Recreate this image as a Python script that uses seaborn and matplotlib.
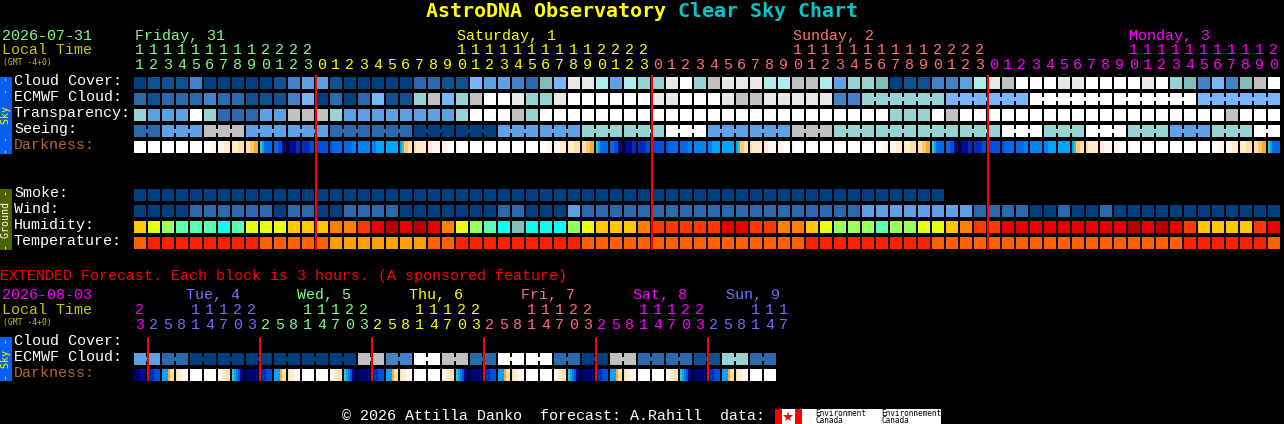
import numpy as np
import matplotlib
matplotlib.use("Agg")
import matplotlib.pyplot as plt
from matplotlib.colors import ListedColormap
from matplotlib.patches import Rectangle
import seaborn as sns

W, H = 1284, 424

# palettes -------------------------------------------------------------
sky_palette = ["#003f7f", "#0f5090", "#2a69ac", "#4382c8", "#5ea0e4", "#78b6fb",
               "#7fbcbc", "#96d4d4", "#aceeee", "#c0c0c0", "#e8e8e8", "#ffffff"]
humidity_palette = ["#08fff0", "#5cffb0", "#9cff60", "#e8ff10", "#ffc800", "#ff8000",
                    "#ff3800", "#e80000", "#b80000", "#84bcbc"]
temperature_palette = ["#ff2000", "#ff6000", "#ffa000"]
darkness_palette = ["#ffffff", "#fff6ea", "#ffeccf", "#ffdfae", "#ffc870", "#ffaa28",
                    "#40c8a0", "#00a4ff", "#0080f8", "#0068e8", "#0050dc", "#0030b8",
                    "#000c98", "#000070"]

# hourly forecast ------------------------------------------------------
top_hours = ([11, 12, 13, 14, 15, 16, 17, 18, 19, 20, 21, 22, 23] + list(range(24)) * 2
             + list(range(21)))
top_days = ["Friday, 31", "Saturday, 1", "Sunday, 2", "Monday, 3"]
top_day_starts = [0, 23, 47, 71]
top_hour_bounds = [0, 13, 37, 61, 82]
top_colors = ["#80ff80", "#ffff00", "#ff7070", "#ff00ff"]

cloud_cover = [0, 1, 1, 1, 3, 0, 0, 0, 0, 0, 1, 3, 4, 4, 1, 0, 0, 0, 0, 0, 2,
               2, 1, 1, 5, 4, 4, 3, 2, 6, 5, 10, 10, 8, 4, 8, 7, 7, 10, 11, 7,
               9, 10, 10, 10, 8, 8, 9, 9, 8, 4, 7, 7, 6, 0, 1, 1, 3, 3, 4, 8,
               10, 9, 11, 11, 11, 10, 10, 11, 11, 11, 11, 10, 11, 7, 6, 3, 5, 3, 6, 9, 11]
ecmwf_cloud = [2, 1, 2, 2, 2, 3, 2, 2, 1, 1, 1, 3, 5, 0, 2, 0, 2, 5, 1, 1, 7,
               9, 5, 7, 9, 11, 11, 10, 7, 7, 10, 11, 11, 11, 11, 11, 11, 10, 10, 11, 11,
               11, 10, 9, 9, 10, 10, 10, 10, 10, 3, 3,
               7, 7, 7, 7, 7, 7, 5, 5, 5, 5, 5, 5,
               11, 11, 11, 11, 11, 11, 11, 11, 11, 11, 11, 11, 5, 5, 5, 5, 5, 5]
ecmwf_groups = [1] * 52 + [6] * 5
transparency = [7, 4, 4, 4, 11, 7, 2, 2, 2, 4, 4, 9, 9, 9, 7, 4, 4, 4, 4, 4, 4,
                4, 4, 7, 11, 11, 11, 9, 7, 11, 11, 11, 11, 11, 11, 11, 11, 11, 11, 11, 11,
                11, 11, 11, 11, 11, 11, 11, 11, 11, 11, 11, 11, 11, 7, 7, 7, 11, 9, 11, 11,
                11, 11, 11, 11, 11, 11, 11, 11, 11, 11, 11, 11, 11, 11, 11, 11, 11, 9, 11, 11, 11]
seeing_levels = [2, 4, 9, 4, 4, 2, 2, 0, 0, 4, 4, 7, 7, 11, 4, 4, 9, 7, 7, 7, 7, 11, 7, 11, 7, 4, 7, 11]
seeing_groups = [2, 3, 3, 3, 3, 3, 3, 3, 3, 3, 3, 3, 3, 3, 3, 3, 3, 3, 3, 3, 3, 3, 3, 3, 3, 3, 3, 2]
darkness = ["000000", "000000", "000000", "000000", "000000", "000111", "111222", "222333",
            "334455", "679999", "99aacd", "dcccbb", "bbbbaa", "aaaaaa", "a99999", "999988",
            "888888", "887777", "777777", "764433", "322222", "221111", "111000", "100000",
            "000000", "000000", "000000", "000000", "000000", "000111", "111222", "222333",
            "334455", "679999", "99aacd", "dcccbb", "bbbbaa", "aaaaaa", "a99999", "999988",
            "888888", "887777", "777777", "764433", "322222", "221111", "111000", "100000",
            "000000", "000000", "000000", "000000", "000000", "000111", "111222", "222333",
            "334455", "679999", "99aacd", "dcccbb", "bbbbaa", "aaaaaa", "a99999", "999988",
            "888888", "887777", "777777", "764433", "322222", "221111", "111000", "100000",
            "000000", "000000", "000000", "000000", "000000", "000111", "111222", "222333",
            "334455", "679999"]
smoke = [0] * 58 + [-1] * 24
wind = [0, 0, 0, 0, 2, 2, 2, 2, 2, 2, 0, 2, 2, 0, 0, 2, 2, 2, 2, 0, 0,
        0, 0, 0, 0, 0, 2, 2, 0, 0, 0, 4, 2, 2, 2, 2, 2, 2, 2, 2, 2,
        2, 2, 2, 2, 2, 2, 2, 2, 2, 2, 2, 4, 4, 4, 4, 4, 4, 4, 4, 2,
        2, 2, 2, 0, 0, 2, 0, 0, 2, 0, 0, 0, 0, 0, 0, 0, 0, 0, 0, 0, 0]
humidity = [4, 3, 2, 1, 1, 1, 0, 1, 3, 3, 3, 4, 4, 4, 5, 5, 6, 7, 8, 7, 8,
            7, 5, 3, 2, 1, 0, 9, 0, 0, 0, 2, 3, 4, 4, 4, 5, 6, 6, 6, 6,
            6, 7, 7, 6, 6, 5, 5, 4, 3, 2, 2, 2, 1, 2, 2, 3, 3, 4, 5, 6,
            6, 7, 7, 7, 7, 7, 7, 7, 7, 7, 8, 7, 8, 7, 6, 4, 4, 4, 4, 6, 7]
temperature = [1, 0, 0, 0, 0, 0, 0, 0, 0, 1, 1, 1, 1, 1, 2, 2, 2, 2, 2, 2, 2,
               1, 1, 0, 0, 0, 0, 0, 0, 0, 0, 0, 1, 1, 1, 1, 1, 1, 1, 1, 1,
               1, 1, 1, 1, 1, 1, 1, 0, 0, 0, 0, 0, 0, 0, 0, 0, 1, 1, 1, 1,
               1, 1, 1, 1, 1, 1, 1, 1, 1, 1, 1, 1, 1, 1, 0, 0, 0, 0, 0, 0, 1]
midnights = [13, 37, 61]
sky_rows = ["Cloud Cover:", "ECMWF Cloud:", "Transparency:", "Seeing:"]
ground_rows = ["Smoke:", "Wind:", "Humidity:", "Temperature:"]

# extended forecast ----------------------------------------------------
ext_hours = [23, 2, 5, 8, 11, 14, 17, 20, 23, 2, 5, 8, 11, 14, 17, 20, 23, 2, 5, 8, 11, 14, 17, 20,
             23, 2, 5, 8, 11, 14, 17, 20, 23, 2, 5, 8, 11, 14, 17, 20, 23, 2, 5, 8, 11, 14, 17]
ext_days = ["Tue, 4", "Wed, 5", "Thu, 6", "Fri, 7", "Sat, 8", "Sun, 9"]
ext_day_x = [186, 297, 409, 521, 633, 726]
ext_bounds = [0, 1, 9, 17, 25, 33, 41, 47]
ext_colors = ["#ff00ff", "#7070ff", "#80ff80", "#ffff00", "#ff7070", "#ff00ff", "#7070ff"]
ext_ecmwf = [4, 2, 0, 0, 0, 0, 0, 0, 9, 3, 11, 9, 2, 11, 11, 2, 0, 9, 2, 2, 1, 7, 2]
ext_groups = [2] * 23
ext_darkness = ["dddccc", "bbbaaa", "777533", "322110", "000000", "000000", "112233", "678acd",
                "dddddc", "cbbaaa", "777533", "322110", "000000", "000000", "112233", "678acd",
                "dddddc", "cbbaaa", "777533", "322110", "000000", "000000", "112233", "678acd",
                "dddddc", "cbbaaa", "777533", "322110", "000000", "000000", "112233", "678acd",
                "dddddc", "cbbaaa", "777533", "322110", "000000", "000000", "112233", "678acd",
                "dddddc", "cbbaaa", "777533", "322110", "000000", "000000"]
ext_midnights = [1, 9, 17, 25, 33, 41]

fig = plt.figure(figsize=(W / 100, H / 100), dpi=100, facecolor="black")
MONO = "Liberation Mono"
BOLD = "DejaVu Sans Mono"
SUB = 7  # each block column = 6 sub-cells of colour + 1 sub-cell of gap


def px_axes(x, y, w, h, z=1):
    ax = fig.add_axes([x / W, 1 - (y + h) / H, w / W, h / H], zorder=z)
    ax.patch.set_alpha(0)
    return ax


def txt(x, y, s, color="white", px=15, family=MONO, **kw):
    """y is the text baseline in picture pixels."""
    kw.setdefault("va", "baseline")
    fig.text(x / W, 1 - y / H, s, color=color, fontsize=px * 0.72, family=family, **kw)


def paint(cells, mask, x, y, h, palette, z=1):
    ax = px_axes(x, y, 2 * cells.shape[0], h, z)
    sns.heatmap(cells[None, :], mask=mask[None, :], cmap=ListedColormap(palette),
                vmin=-0.5, vmax=len(palette) - 0.5, cbar=False, linewidths=0,
                xticklabels=False, yticklabels=False, ax=ax)
    ax.axis("off")


def block_row(values, top, palette):
    vals = np.asarray(values, dtype=float)
    cells = np.repeat(vals, SUB)
    mask = cells < 0
    mask[SUB - 1::SUB] = True
    paint(cells, mask, 134, top, 12, palette)


def merged_row(levels, groups, top, palette):
    """Blocks of one group are tied together by a thin bridge across their gaps."""
    if len(levels) == len(groups):
        vals = np.repeat(levels, groups).astype(float)
    else:
        vals = np.asarray(levels, float)
    ids = np.repeat(np.arange(len(groups)), groups)
    block_row(vals, top, palette)
    cells = np.repeat(vals, SUB)
    mask = np.ones(cells.shape, bool)
    mask[SUB - 1:-1:SUB] = ids[:-1] != ids[1:]
    paint(cells, mask, 134, top + 4, 4, palette, z=2)


def darkness_row(strings, top):
    cells = []
    for s in strings:
        cells.extend(int(c, 16) for c in s)
        cells.append(-1)
    cells = np.array(cells, dtype=float)
    paint(cells, cells < 0, 134, top, 12, darkness_palette)


def red_lines(cols, n, y0, y1):
    ax = px_axes(134, y0, 14 * n, y1 - y0, z=5)
    ax.set_xlim(0, n)
    ax.set_ylim(0, 1)
    for c in cols:
        ax.axvline(c, color="#ff0000", linewidth=1.44, solid_capstyle="butt")
    ax.axis("off")


def side_bar(y0, y1, face, label, color):
    ax = px_axes(0, y0, 12, y1 - y0)
    ax.set_facecolor(face)
    ax.patch.set_alpha(1)
    ax.set_xticks([])
    ax.set_yticks([])
    for s in ax.spines.values():
        s.set_visible(False)
    txt(6, (y0 + y1) / 2, label, color=color, px=10, family=BOLD, rotation=90,
        ha="center", va="center", zorder=4)


def hour_labels(hours, bounds, colors, tens_y, ones_y):
    for k, (a, b) in enumerate(zip(bounds[:-1], bounds[1:])):
        for i in range(a, b):
            cx = 139.5 + 14 * i
            h = hours[i]
            if h >= 10:
                txt(cx, tens_y, str(h // 10), colors[k], ha="center")
            txt(cx, ones_y, str(h % 10), colors[k], ha="center")


# title ---------------------------------------------------------------
txt(426, 17, "AstroDNA Observatory", "#ffff00", 20, BOLD, fontweight="bold")
txt(678, 17, "Clear Sky Chart", "#00c8c8", 20, BOLD, fontweight="bold")

# hourly block --------------------------------------------------------
txt(2, 40, "2026-07-31", "#80ff80")
txt(2, 54, "Local Time", "#c8c800")
txt(3, 65, "(GMT -4+0)", "#c8c800", 8, BOLD)
for name, start, col in zip(top_days, top_day_starts, top_colors):
    txt(134 + 14 * start + 1, 40, name, col)
hour_labels(top_hours, top_hour_bounds, top_colors, 54, 69)

for k, s in enumerate(sky_rows):
    txt(14, 85 + 16 * k, s)
txt(14, 149, "Darkness:", "#b0682f")
for k, s in enumerate(ground_rows):
    txt(14, 197 + 16 * k, s)

block_row(cloud_cover, 77, sky_palette)
merged_row(ecmwf_cloud, ecmwf_groups, 93, sky_palette)
block_row(transparency, 109, sky_palette)
merged_row(seeing_levels, seeing_groups, 125, sky_palette)
darkness_row(darkness, 141)
block_row(smoke, 189, sky_palette)
block_row(wind, 205, sky_palette)
block_row(humidity, 221, humidity_palette)
block_row(temperature, 237, temperature_palette)
red_lines(midnights, 82, 75, 250)
side_bar(77, 154, "#0a60ee", "- -  Sky  - -", "#ffff00")
side_bar(189, 250, "#4a6400", "- Ground -", "#ffffff")

# extended block ------------------------------------------------------
txt(0, 280, "EXTENDED Forecast. Each block is 3 hours. (A sponsored feature)", "#ff0000")
txt(2, 299, "2026-08-03", "#ff00ff")
txt(2, 314, "Local Time", "#c8c800")
txt(3, 325, "(GMT -4+0)", "#c8c800", 8, BOLD)
for name, x, col in zip(ext_days, ext_day_x, ext_colors[1:]):
    txt(x, 299, name, col)
hour_labels(ext_hours, ext_bounds, ext_colors, 314, 329)
txt(14, 345, "Cloud Cover:")
txt(14, 361, "ECMWF Cloud:")
txt(14, 377, "Darkness:", "#b0682f")
merged_row(ext_ecmwf, ext_groups, 353, sky_palette)
darkness_row(ext_darkness, 369)
red_lines(ext_midnights, 47, 337, 381)
side_bar(337, 381, "#0a60ee", "- Sky -", "#ffff00")

# footer --------------------------------------------------------------
txt(342, 420, "\u00a9 2026 Attilla Danko  forecast: A.Rahill  data:")
logo = px_axes(775, 409, 166, 15, z=3)
logo.set_xlim(775, 941)
logo.set_ylim(424, 409)
logo.add_patch(Rectangle((775, 409), 166, 15, color="white", lw=0))
logo.add_patch(Rectangle((775, 409), 7, 15, color="#ff0000", lw=0))
logo.add_patch(Rectangle((795, 409), 7, 15, color="#ff0000", lw=0))
logo.plot([788.5], [416.5], marker="*", ms=8, color="#ff0000", mew=0)
logo.axis("off")
for x, a in zip([815, 881], ["Environment", "Environnement"]):
    fig.text(x / W, 1 - 416 / H, a, color="black", fontsize=5.6, family=BOLD, zorder=6)
    fig.text(x / W, 1 - 423 / H, "Canada", color="black", fontsize=5.6, family=BOLD, zorder=6)

fig.savefig("out.png", dpi=100, facecolor="black")
